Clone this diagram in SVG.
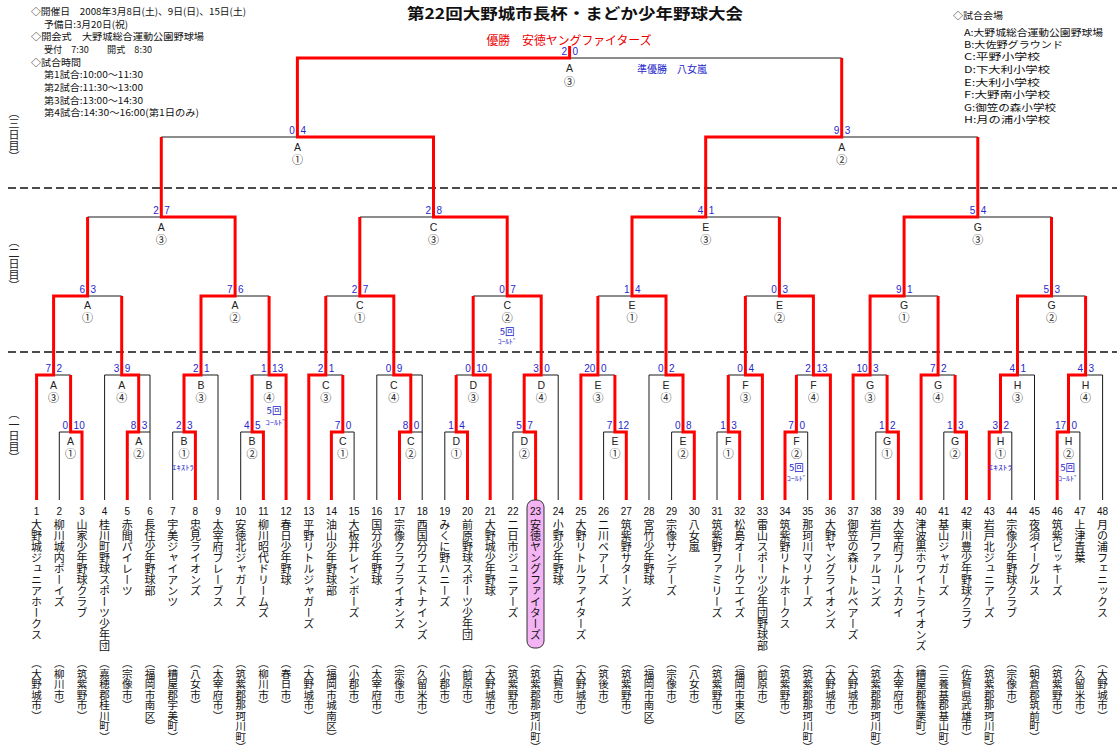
<svg xmlns="http://www.w3.org/2000/svg" width="1117" height="756" viewBox="0 0 1117 756">
<style>
.k{fill:none;stroke:#1a1a1a;stroke-width:1}
.r{fill:none;stroke:#f00;stroke-width:3;stroke-linejoin:miter}
.dash{stroke:#111;stroke-width:1.5;stroke-dasharray:8 4}
.sl{font:10px "Liberation Sans",sans-serif;fill:#2727cc;text-anchor:end}
.sr{font:10px "Liberation Sans",sans-serif;fill:#2727cc;text-anchor:start}
.lt{font:10.5px "Liberation Sans",sans-serif;fill:#222;text-anchor:middle}
.cn{font:11px "Noto Sans CJK JP",sans-serif;fill:#222;text-anchor:middle}
.no{font:10px "Liberation Sans",sans-serif;fill:#111;text-anchor:middle}
.nm{font:11px "Noto Sans CJK JP",sans-serif;fill:#111;writing-mode:vertical-rl}
.lc{font:10.5px "Noto Sans CJK JP",sans-serif;fill:#111;writing-mode:vertical-rl}
.rd{font:11px "Noto Sans CJK JP",sans-serif;fill:#222;writing-mode:vertical-rl}
.b5{font:9.5px "Noto Sans CJK JP",sans-serif;fill:#2727cc;text-anchor:middle}
.bs{font:7px "Noto Sans CJK JP",sans-serif;fill:#2727cc;text-anchor:middle}
.hd{font:9.5px "Noto Sans CJK JP",sans-serif;fill:#111}
</style>
<rect width="1117" height="756" fill="#fff"/>
<g id="header">
<text class="hd" x="31" y="15" textLength="215" lengthAdjust="spacingAndGlyphs">◇開催日　2008年3月8日(土)、9日(日)、15日(土)</text>
<text class="hd" x="44" y="28" textLength="84" lengthAdjust="spacingAndGlyphs">予備日:3月20日(祝)</text>
<text class="hd" x="31" y="40" textLength="173" lengthAdjust="spacingAndGlyphs">◇開会式　大野城総合運動公園野球場</text>
<text class="hd" x="44" y="53" textLength="108" lengthAdjust="spacingAndGlyphs">受付　7:30　　開式　8:30</text>
<text class="hd" x="31" y="66" textLength="50" lengthAdjust="spacingAndGlyphs">◇試合時間</text>
<text class="hd" x="44" y="78" textLength="99" lengthAdjust="spacingAndGlyphs">第1試合:10:00～11:30</text>
<text class="hd" x="44" y="91" textLength="99" lengthAdjust="spacingAndGlyphs">第2試合:11:30～13:00</text>
<text class="hd" x="44" y="104" textLength="99" lengthAdjust="spacingAndGlyphs">第3試合:13:00～14:30</text>
<text class="hd" x="44" y="116" textLength="155" lengthAdjust="spacingAndGlyphs">第4試合:14:30～16:00(第1日のみ)</text>
</g>
<g id="title">
<text x="575" y="19" font-family="Noto Sans CJK JP, sans-serif" font-size="15" font-weight="bold" text-anchor="middle" textLength="336" lengthAdjust="spacingAndGlyphs" fill="#111">第22回大野城市長杯・まどか少年野球大会</text>
<text x="569" y="45" font-family="Noto Sans CJK JP, sans-serif" font-size="12" text-anchor="middle" textLength="165" lengthAdjust="spacingAndGlyphs" fill="#e00">優勝　安徳ヤングファイターズ</text>
<text x="672" y="73" font-family="Noto Sans CJK JP, sans-serif" font-size="10.5" text-anchor="middle" textLength="70" lengthAdjust="spacingAndGlyphs" fill="#2727cc">準優勝　八女嵐</text>
</g>
<g id="venues">
<text class="hd" x="953" y="19" textLength="50" lengthAdjust="spacingAndGlyphs">◇試合会場</text>
<text class="hd" x="964" y="36" textLength="139" lengthAdjust="spacingAndGlyphs">A:大野城総合運動公園野球場</text>
<text class="hd" x="964" y="48" textLength="99" lengthAdjust="spacingAndGlyphs">B:大佐野グラウンド</text>
<text class="hd" x="964" y="60" textLength="76" lengthAdjust="spacingAndGlyphs">C:平野小学校</text>
<text class="hd" x="964" y="73" textLength="86" lengthAdjust="spacingAndGlyphs">D:下大利小学校</text>
<text class="hd" x="964" y="86" textLength="76" lengthAdjust="spacingAndGlyphs">E:大利小学校</text>
<text class="hd" x="964" y="98" textLength="86" lengthAdjust="spacingAndGlyphs">F:大野南小学校</text>
<text class="hd" x="964" y="111" textLength="92" lengthAdjust="spacingAndGlyphs">G:御笠の森小学校</text>
<text class="hd" x="964" y="123" textLength="86" lengthAdjust="spacingAndGlyphs">H:月の浦小学校</text>
</g>
<g id="days">
<line class="dash" x1="8" y1="188" x2="1117" y2="188"/>
<line class="dash" x1="8" y1="352" x2="1117" y2="352"/>
<text class="rd" x="14" y="107">（三日目）</text>
<text class="rd" x="14" y="236">（二日目）</text>
<text class="rd" x="14" y="408">（一日目）</text>
</g>
<g id="connectors">
<path class="k" d="M59.3,500V432H82V500M127.3,500V432H150V500M172.7,500V432H195.4V500M240.7,500V432H263.4V500M331.4,500V432H354.1V500M399.5,500V432H422.2V500M444.8,500V432H467.5V500M512.9,500V432H535.6V500M603.6,500V432H626.3V500M671.6,500V432H694.3V500M717,500V432H739.7V500M785,500V432H807.7V500M875.8,500V432H898.4V500M943.8,500V432H966.5V500M989.2,500V432H1011.8V500M1057.2,500V432H1079.9V500"/>
<path class="k" d="M36.6,500V375H70.6V432M104.6,500V375H150V432M184,432V375H218V500M252.1,432V375H286.1V500M308.8,500V375H342.8V432M376.8,500V375H422.2V432M456.2,432V375H490.2V500M524.2,432V375H558.2V500M580.9,500V375H614.9V432M649,500V375H683V432M728.3,432V375H762.4V500M796.4,432V375H830.4V500M853.1,500V375H887.1V432M921.1,500V375H955.1V432M1000.5,432V375H1034.5V500M1068.5,432V375H1102.6V500"/>
<path class="k" d="M53.6,375V296H121.7V375M201,375V296H269.1V375M325.8,375V296H393.8V375M473.2,375V296H541.2V375M597.9,375V296H666V375M745.4,375V296H813.4V375M870.1,375V296H938.1V375M1017.5,375V296H1085.6V375"/>
<path class="k" d="M87.6,296V217H235.1V296M359.8,296V217H507.2V296M632,296V217H779.4V296M904.1,296V217H1051.5V296"/>
<path class="k" d="M161.3,217V137H433.5V217M705.7,217V137H977.8V217"/>
<path class="k" d="M297.4,137V58H841.7V137"/>
<path class="r" d="M82,500V432H70.6V375"/>
<path class="r" d="M36.6,500V375H53.6V296H87.6V217"/>
<path class="r" d="M127.3,500V432H138.7V375H121.7V296"/>
<path class="r" d="M195.4,500V432H184V375H201V296H235.1V217H161.3V137"/>
<path class="r" d="M263.4,500V432H252.1V375"/>
<path class="r" d="M286.1,500V375H269.1V296"/>
<path class="r" d="M331.4,500V432H342.8V375"/>
<path class="r" d="M308.8,500V375H325.8V296"/>
<path class="r" d="M399.5,500V432H410.8V375H393.8V296H359.8V217"/>
<path class="r" d="M467.5,500V432H456.2V375"/>
<path class="r" d="M490.2,500V375H473.2V296"/>
<path class="r" d="M535.6,500V432H524.2V375H541.2V296H507.2V217H433.5V137H297.4V58H569.6V46"/>
<path class="r" d="M626.3,500V432H614.9V375"/>
<path class="r" d="M580.9,500V375H597.9V296"/>
<path class="r" d="M694.3,500V432H683V375H666V296H632V217H705.7V137H841.7V58"/>
<path class="r" d="M739.7,500V432H728.3V375"/>
<path class="r" d="M762.4,500V375H745.4V296"/>
<path class="r" d="M785,500V432H796.4V375"/>
<path class="r" d="M830.4,500V375H813.4V296H779.4V217"/>
<path class="r" d="M898.4,500V432H887.1V375"/>
<path class="r" d="M853.1,500V375H870.1V296H904.1V217H977.8V137"/>
<path class="r" d="M966.5,500V432H955.1V375"/>
<path class="r" d="M921.1,500V375H938.1V296"/>
<path class="r" d="M989.2,500V432H1000.5V375H1017.5V296H1051.5V217"/>
<path class="r" d="M1057.2,500V432H1068.5V375H1085.6V296"/>
</g>
<g id="matches">
<g id="final"><text class="sl" x="567" y="55">2</text><text class="sr" x="572.5" y="55">0</text><text class="lt" x="569.6" y="72">A</text><text class="cn" x="569.6" y="85.5">③</text></g>
<g id="semi-A1"><text class="sl" x="294.9" y="134">0</text><text class="sr" x="300.4" y="134">4</text><text class="lt" x="297.4" y="150.5">A</text><text class="cn" x="297.4" y="164">①</text></g>
<g id="semi-A2"><text class="sl" x="839.2" y="134">9</text><text class="sr" x="844.7" y="134">3</text><text class="lt" x="841.7" y="150.5">A</text><text class="cn" x="841.7" y="164">②</text></g>
<g id="r2-A3"><text class="sl" x="158.8" y="214">2</text><text class="sr" x="164.3" y="214">7</text><text class="lt" x="161.3" y="230.5">A</text><text class="cn" x="161.3" y="244">③</text></g>
<g id="r2-C3"><text class="sl" x="431" y="214">2</text><text class="sr" x="436.5" y="214">8</text><text class="lt" x="433.5" y="230.5">C</text><text class="cn" x="433.5" y="244">③</text></g>
<g id="r2-E3"><text class="sl" x="703.2" y="214">4</text><text class="sr" x="708.7" y="214">1</text><text class="lt" x="705.7" y="230.5">E</text><text class="cn" x="705.7" y="244">③</text></g>
<g id="r2-G3"><text class="sl" x="975.3" y="214">5</text><text class="sr" x="980.8" y="214">4</text><text class="lt" x="977.8" y="230.5">G</text><text class="cn" x="977.8" y="244">③</text></g>
<g id="r2-A1"><text class="sl" x="85.1" y="293">6</text><text class="sr" x="90.6" y="293">3</text><text class="lt" x="87.6" y="309">A</text><text class="cn" x="87.6" y="322">①</text></g>
<g id="r2-A2"><text class="sl" x="232.6" y="293">7</text><text class="sr" x="238.1" y="293">6</text><text class="lt" x="235.1" y="309">A</text><text class="cn" x="235.1" y="322">②</text></g>
<g id="r2-C1"><text class="sl" x="357.3" y="293">2</text><text class="sr" x="362.8" y="293">7</text><text class="lt" x="359.8" y="309">C</text><text class="cn" x="359.8" y="322">①</text></g>
<g id="r2-C2"><text class="sl" x="504.7" y="293">0</text><text class="sr" x="510.2" y="293">7</text><text class="lt" x="507.2" y="309">C</text><text class="cn" x="507.2" y="322">②</text><text class="b5" x="507.2" y="335">5回</text><text class="bs" x="507.2" y="344" textLength="19" lengthAdjust="spacingAndGlyphs">ｺｰﾙﾄﾞ</text></g>
<g id="r2-E1"><text class="sl" x="629.5" y="293">1</text><text class="sr" x="635" y="293">4</text><text class="lt" x="632" y="309">E</text><text class="cn" x="632" y="322">①</text></g>
<g id="r2-E2"><text class="sl" x="776.9" y="293">0</text><text class="sr" x="782.4" y="293">3</text><text class="lt" x="779.4" y="309">E</text><text class="cn" x="779.4" y="322">②</text></g>
<g id="r2-G1"><text class="sl" x="901.6" y="293">9</text><text class="sr" x="907.1" y="293">1</text><text class="lt" x="904.1" y="309">G</text><text class="cn" x="904.1" y="322">①</text></g>
<g id="r2-G2"><text class="sl" x="1049" y="293">5</text><text class="sr" x="1054.5" y="293">3</text><text class="lt" x="1051.5" y="309">G</text><text class="cn" x="1051.5" y="322">②</text></g>
<g id="r1-A3"><text class="sl" x="51.1" y="372">7</text><text class="sr" x="56.6" y="372">2</text><text class="lt" x="53.6" y="388.5">A</text><text class="cn" x="53.6" y="401.5">③</text></g>
<g id="r1-A4"><text class="sl" x="119.2" y="372">3</text><text class="sr" x="124.7" y="372">9</text><text class="lt" x="121.7" y="388.5">A</text><text class="cn" x="121.7" y="401.5">④</text></g>
<g id="r1-B3"><text class="sl" x="198.5" y="372">2</text><text class="sr" x="204" y="372">1</text><text class="lt" x="201" y="388.5">B</text><text class="cn" x="201" y="401.5">③</text></g>
<g id="r1-B4"><text class="sl" x="266.6" y="372">1</text><text class="sr" x="272.1" y="372">13</text><text class="lt" x="269.1" y="388.5">B</text><text class="cn" x="269.1" y="401.5">④</text><text class="b5" x="274" y="413.5">5回</text><text class="bs" x="276" y="424.5" textLength="21" lengthAdjust="spacingAndGlyphs">ｺｰﾙﾄﾞ</text></g>
<g id="r1-C3"><text class="sl" x="323.3" y="372">2</text><text class="sr" x="328.8" y="372">1</text><text class="lt" x="325.8" y="388.5">C</text><text class="cn" x="325.8" y="401.5">③</text></g>
<g id="r1-C4"><text class="sl" x="391.3" y="372">0</text><text class="sr" x="396.8" y="372">9</text><text class="lt" x="393.8" y="388.5">C</text><text class="cn" x="393.8" y="401.5">④</text></g>
<g id="r1-D3"><text class="sl" x="470.7" y="372">0</text><text class="sr" x="476.2" y="372">10</text><text class="lt" x="473.2" y="388.5">D</text><text class="cn" x="473.2" y="401.5">③</text></g>
<g id="r1-D4"><text class="sl" x="538.7" y="372">3</text><text class="sr" x="544.2" y="372">0</text><text class="lt" x="541.2" y="388.5">D</text><text class="cn" x="541.2" y="401.5">④</text></g>
<g id="r1-E3"><text class="sl" x="595.4" y="372">20</text><text class="sr" x="600.9" y="372">0</text><text class="lt" x="597.9" y="388.5">E</text><text class="cn" x="597.9" y="401.5">③</text></g>
<g id="r1-E4"><text class="sl" x="663.5" y="372">0</text><text class="sr" x="669" y="372">2</text><text class="lt" x="666" y="388.5">E</text><text class="cn" x="666" y="401.5">④</text></g>
<g id="r1-F3"><text class="sl" x="742.9" y="372">0</text><text class="sr" x="748.4" y="372">4</text><text class="lt" x="745.4" y="388.5">F</text><text class="cn" x="745.4" y="401.5">③</text></g>
<g id="r1-F4"><text class="sl" x="810.9" y="372">2</text><text class="sr" x="816.4" y="372">13</text><text class="lt" x="813.4" y="388.5">F</text><text class="cn" x="813.4" y="401.5">④</text></g>
<g id="r1-G3"><text class="sl" x="867.6" y="372">10</text><text class="sr" x="873.1" y="372">3</text><text class="lt" x="870.1" y="388.5">G</text><text class="cn" x="870.1" y="401.5">③</text></g>
<g id="r1-G4"><text class="sl" x="935.6" y="372">7</text><text class="sr" x="941.1" y="372">2</text><text class="lt" x="938.1" y="388.5">G</text><text class="cn" x="938.1" y="401.5">④</text></g>
<g id="r1-H3"><text class="sl" x="1015" y="372">4</text><text class="sr" x="1020.5" y="372">1</text><text class="lt" x="1017.5" y="388.5">H</text><text class="cn" x="1017.5" y="401.5">③</text></g>
<g id="r1-H4"><text class="sl" x="1083.1" y="372">4</text><text class="sr" x="1088.6" y="372">3</text><text class="lt" x="1085.6" y="388.5">H</text><text class="cn" x="1085.6" y="401.5">④</text></g>
<g id="r1-A1"><text class="sl" x="68.1" y="429">0</text><text class="sr" x="73.6" y="429">10</text><text class="lt" x="70.6" y="445">A</text><text class="cn" x="70.6" y="458">①</text></g>
<g id="r1-A2"><text class="sl" x="136.2" y="429">8</text><text class="sr" x="141.7" y="429">3</text><text class="lt" x="138.7" y="445">A</text><text class="cn" x="138.7" y="458">②</text></g>
<g id="r1-B1"><text class="sl" x="181.5" y="429">2</text><text class="sr" x="187" y="429">3</text><text class="lt" x="184" y="445">B</text><text class="cn" x="184" y="458">①</text><text class="bs" x="183" y="470" textLength="22" lengthAdjust="spacingAndGlyphs">ｴｷｽﾄﾗ</text></g>
<g id="r1-B2"><text class="sl" x="249.6" y="429">4</text><text class="sr" x="255.1" y="429">5</text><text class="lt" x="252.1" y="445">B</text><text class="cn" x="252.1" y="458">②</text></g>
<g id="r1-C1"><text class="sl" x="340.3" y="429">7</text><text class="sr" x="345.8" y="429">0</text><text class="lt" x="342.8" y="445">C</text><text class="cn" x="342.8" y="458">①</text></g>
<g id="r1-C2"><text class="sl" x="408.3" y="429">8</text><text class="sr" x="413.8" y="429">0</text><text class="lt" x="410.8" y="445">C</text><text class="cn" x="410.8" y="458">②</text></g>
<g id="r1-D1"><text class="sl" x="453.7" y="429">1</text><text class="sr" x="459.2" y="429">4</text><text class="lt" x="456.2" y="445">D</text><text class="cn" x="456.2" y="458">①</text></g>
<g id="r1-D2"><text class="sl" x="521.7" y="429">5</text><text class="sr" x="527.2" y="429">7</text><text class="lt" x="524.2" y="445">D</text><text class="cn" x="524.2" y="458">②</text></g>
<g id="r1-E1"><text class="sl" x="612.4" y="429">7</text><text class="sr" x="617.9" y="429">12</text><text class="lt" x="614.9" y="445">E</text><text class="cn" x="614.9" y="458">①</text></g>
<g id="r1-E2"><text class="sl" x="680.5" y="429">0</text><text class="sr" x="686" y="429">8</text><text class="lt" x="683" y="445">E</text><text class="cn" x="683" y="458">②</text></g>
<g id="r1-F1"><text class="sl" x="725.8" y="429">1</text><text class="sr" x="731.3" y="429">3</text><text class="lt" x="728.3" y="445">F</text><text class="cn" x="728.3" y="458">①</text></g>
<g id="r1-F2"><text class="sl" x="793.9" y="429">7</text><text class="sr" x="799.4" y="429">0</text><text class="lt" x="796.4" y="445">F</text><text class="cn" x="796.4" y="458">②</text><text class="b5" x="796.4" y="471">5回</text><text class="bs" x="796.7" y="481" textLength="20" lengthAdjust="spacingAndGlyphs">ｺｰﾙﾄﾞ</text></g>
<g id="r1-G1"><text class="sl" x="884.6" y="429">1</text><text class="sr" x="890.1" y="429">2</text><text class="lt" x="887.1" y="445">G</text><text class="cn" x="887.1" y="458">①</text></g>
<g id="r1-G2"><text class="sl" x="952.6" y="429">1</text><text class="sr" x="958.1" y="429">3</text><text class="lt" x="955.1" y="445">G</text><text class="cn" x="955.1" y="458">②</text></g>
<g id="r1-H1"><text class="sl" x="998" y="429">3</text><text class="sr" x="1003.5" y="429">2</text><text class="lt" x="1000.5" y="445">H</text><text class="cn" x="1000.5" y="458">①</text><text class="bs" x="1000.4" y="470" textLength="24" lengthAdjust="spacingAndGlyphs">ｴｷｽﾄﾗ</text></g>
<g id="r1-H2"><text class="sl" x="1066" y="429">17</text><text class="sr" x="1071.5" y="429">0</text><text class="lt" x="1068.5" y="445">H</text><text class="cn" x="1068.5" y="458">②</text><text class="b5" x="1067.7" y="471">5回</text><text class="bs" x="1068" y="481" textLength="20" lengthAdjust="spacingAndGlyphs">ｺｰﾙﾄﾞ</text></g>
</g>
<g id="teams">
<g id="t1"><text class="no" x="36.6" y="515">1</text><text class="nm" x="36.6" y="519">大野城ジュニアホークス</text><text class="lc" x="36.6" y="658">（大野城市）</text></g>
<g id="t2"><text class="no" x="59.3" y="515">2</text><text class="nm" x="59.3" y="519">柳川城内ボーイズ</text><text class="lc" x="59.3" y="658">（柳川市）</text></g>
<g id="t3"><text class="no" x="82" y="515">3</text><text class="nm" x="82" y="519">山家少年野球クラブ</text><text class="lc" x="82" y="658">（筑紫野市）</text></g>
<g id="t4"><text class="no" x="104.6" y="515">4</text><text class="nm" x="104.6" y="519">桂川町野球スポーツ少年団</text><text class="lc" x="104.6" y="658">（嘉穂郡桂川町）</text></g>
<g id="t5"><text class="no" x="127.3" y="515">5</text><text class="nm" x="127.3" y="519">赤間パイレーツ</text><text class="lc" x="127.3" y="658">（宗像市）</text></g>
<g id="t6"><text class="no" x="150" y="515">6</text><text class="nm" x="150" y="519">長住少年野球部</text><text class="lc" x="150" y="658">（福岡市南区）</text></g>
<g id="t7"><text class="no" x="172.7" y="515">7</text><text class="nm" x="172.7" y="519">宇美ジャイアンツ</text><text class="lc" x="172.7" y="658">（糟屋郡宇美町）</text></g>
<g id="t8"><text class="no" x="195.4" y="515">8</text><text class="nm" x="195.4" y="519">忠見ライオンズ</text><text class="lc" x="195.4" y="658">（八女市）</text></g>
<g id="t9"><text class="no" x="218" y="515">9</text><text class="nm" x="218" y="519">太宰府ブレーブス</text><text class="lc" x="218" y="658">（太宰府市）</text></g>
<g id="t10"><text class="no" x="240.7" y="515">10</text><text class="nm" x="240.7" y="519">安徳北ジャガーズ</text><text class="lc" x="240.7" y="658">（筑紫郡那珂川町）</text></g>
<g id="t11"><text class="no" x="263.4" y="515">11</text><text class="nm" x="263.4" y="519">柳川昭代ドリームズ</text><text class="lc" x="263.4" y="658">（柳川市）</text></g>
<g id="t12"><text class="no" x="286.1" y="515">12</text><text class="nm" x="286.1" y="519">春日少年野球</text><text class="lc" x="286.1" y="658">（春日市）</text></g>
<g id="t13"><text class="no" x="308.8" y="515">13</text><text class="nm" x="308.8" y="519">平野リトルジャガーズ</text><text class="lc" x="308.8" y="658">（大野城市）</text></g>
<g id="t14"><text class="no" x="331.4" y="515">14</text><text class="nm" x="331.4" y="519">油山少年野球部</text><text class="lc" x="331.4" y="658">（福岡市城南区）</text></g>
<g id="t15"><text class="no" x="354.1" y="515">15</text><text class="nm" x="354.1" y="519">大板井レインボーズ</text><text class="lc" x="354.1" y="658">（小郡市）</text></g>
<g id="t16"><text class="no" x="376.8" y="515">16</text><text class="nm" x="376.8" y="519">国分少年野球</text><text class="lc" x="376.8" y="658">（太宰府市）</text></g>
<g id="t17"><text class="no" x="399.5" y="515">17</text><text class="nm" x="399.5" y="519">宗像クラブライオンズ</text><text class="lc" x="399.5" y="658">（宗像市）</text></g>
<g id="t18"><text class="no" x="422.2" y="515">18</text><text class="nm" x="422.2" y="519">西国分ウエストナインズ</text><text class="lc" x="422.2" y="658">（久留米市）</text></g>
<g id="t19"><text class="no" x="444.8" y="515">19</text><text class="nm" x="444.8" y="519">みくに野ハニーズ</text><text class="lc" x="444.8" y="658">（小郡市）</text></g>
<g id="t20"><text class="no" x="467.5" y="515">20</text><text class="nm" x="467.5" y="519">前原野球スポーツ少年団</text><text class="lc" x="467.5" y="658">（前原市）</text></g>
<g id="t21"><text class="no" x="490.2" y="515">21</text><text class="nm" x="490.2" y="519">大野城少年野球</text><text class="lc" x="490.2" y="658">（大野城市）</text></g>
<g id="t22"><text class="no" x="512.9" y="515">22</text><text class="nm" x="512.9" y="519">二日市ジュニアーズ</text><text class="lc" x="512.9" y="658">（筑紫野市）</text></g>
<g id="t23"><rect x="527" y="500" width="17" height="148" rx="7" fill="#f4b4f4" stroke="#333" stroke-width="1"/><text class="no" x="535.6" y="515">23</text><text class="nm" x="535.6" y="519">安徳ヤングファイターズ</text><text class="lc" x="535.6" y="658">（筑紫郡那珂川町）</text></g>
<g id="t24"><text class="no" x="558.2" y="515">24</text><text class="nm" x="558.2" y="519">小野少年野球</text><text class="lc" x="558.2" y="658">（古賀市）</text></g>
<g id="t25"><text class="no" x="580.9" y="515">25</text><text class="nm" x="580.9" y="519">大野リトルファイターズ</text><text class="lc" x="580.9" y="658">（大野城市）</text></g>
<g id="t26"><text class="no" x="603.6" y="515">26</text><text class="nm" x="603.6" y="519">二川ベアーズ</text><text class="lc" x="603.6" y="658">（筑後市）</text></g>
<g id="t27"><text class="no" x="626.3" y="515">27</text><text class="nm" x="626.3" y="519">筑紫野サターンズ</text><text class="lc" x="626.3" y="658">（筑紫野市）</text></g>
<g id="t28"><text class="no" x="649" y="515">28</text><text class="nm" x="649" y="519">宮竹少年野球</text><text class="lc" x="649" y="658">（福岡市南区）</text></g>
<g id="t29"><text class="no" x="671.6" y="515">29</text><text class="nm" x="671.6" y="519">宗像サンデーズ</text><text class="lc" x="671.6" y="658">（宗像市）</text></g>
<g id="t30"><text class="no" x="694.3" y="515">30</text><text class="nm" x="694.3" y="519">八女嵐</text><text class="lc" x="694.3" y="658">（八女市）</text></g>
<g id="t31"><text class="no" x="717" y="515">31</text><text class="nm" x="717" y="519">筑紫野ファミリーズ</text><text class="lc" x="717" y="658">（筑紫野市）</text></g>
<g id="t32"><text class="no" x="739.7" y="515">32</text><text class="nm" x="739.7" y="519">松島オールウエイズ</text><text class="lc" x="739.7" y="658">（福岡市東区）</text></g>
<g id="t33"><text class="no" x="762.4" y="515">33</text><text class="nm" x="762.4" y="519">雷山スポーツ少年団野球部</text><text class="lc" x="762.4" y="658">（前原市）</text></g>
<g id="t34"><text class="no" x="785" y="515">34</text><text class="nm" x="785" y="519">筑紫野リトルホークス</text><text class="lc" x="785" y="658">（筑紫野市）</text></g>
<g id="t35"><text class="no" x="807.7" y="515">35</text><text class="nm" x="807.7" y="519">那珂川マリナーズ</text><text class="lc" x="807.7" y="658">（筑紫郡那珂川町）</text></g>
<g id="t36"><text class="no" x="830.4" y="515">36</text><text class="nm" x="830.4" y="519">大野ヤングライオンズ</text><text class="lc" x="830.4" y="658">（大野城市）</text></g>
<g id="t37"><text class="no" x="853.1" y="515">37</text><text class="nm" x="853.1" y="519">御笠の森リトルベアーズ</text><text class="lc" x="853.1" y="658">（大野城市）</text></g>
<g id="t38"><text class="no" x="875.8" y="515">38</text><text class="nm" x="875.8" y="519">岩戸ファルコンズ</text><text class="lc" x="875.8" y="658">（筑紫郡那珂川町）</text></g>
<g id="t39"><text class="no" x="898.4" y="515">39</text><text class="nm" x="898.4" y="519">大宰府ブルースカイ</text><text class="lc" x="898.4" y="658">（太宰府市）</text></g>
<g id="t40"><text class="no" x="921.1" y="515">40</text><text class="nm" x="921.1" y="519">津波黒ホワイトライオンズ</text><text class="lc" x="921.1" y="658">（糟屋郡篠栗町）</text></g>
<g id="t41"><text class="no" x="943.8" y="515">41</text><text class="nm" x="943.8" y="519">基山ジャガーズ</text><text class="lc" x="943.8" y="658">（三養基郡基山町）</text></g>
<g id="t42"><text class="no" x="966.5" y="515">42</text><text class="nm" x="966.5" y="519">東川豊少年野球クラブ</text><text class="lc" x="966.5" y="658">（佐賀県武雄市）</text></g>
<g id="t43"><text class="no" x="989.2" y="515">43</text><text class="nm" x="989.2" y="519">岩戸北ジュニアーズ</text><text class="lc" x="989.2" y="658">（筑紫郡那珂川町）</text></g>
<g id="t44"><text class="no" x="1011.8" y="515">44</text><text class="nm" x="1011.8" y="519">宗像少年野球クラブ</text><text class="lc" x="1011.8" y="658">（宗像市）</text></g>
<g id="t45"><text class="no" x="1034.5" y="515">45</text><text class="nm" x="1034.5" y="519">夜須イーグルス</text><text class="lc" x="1034.5" y="658">（朝倉郡筑前町）</text></g>
<g id="t46"><text class="no" x="1057.2" y="515">46</text><text class="nm" x="1057.2" y="519">筑紫ビッキーズ</text><text class="lc" x="1057.2" y="658">（筑紫野市）</text></g>
<g id="t47"><text class="no" x="1079.9" y="515">47</text><text class="nm" x="1079.9" y="519">上津青葉</text><text class="lc" x="1079.9" y="658">（久留米市）</text></g>
<g id="t48"><text class="no" x="1102.6" y="515">48</text><text class="nm" x="1102.6" y="519">月の浦フェニックス</text><text class="lc" x="1102.6" y="658">（大野城市）</text></g>
</g>
</svg>
